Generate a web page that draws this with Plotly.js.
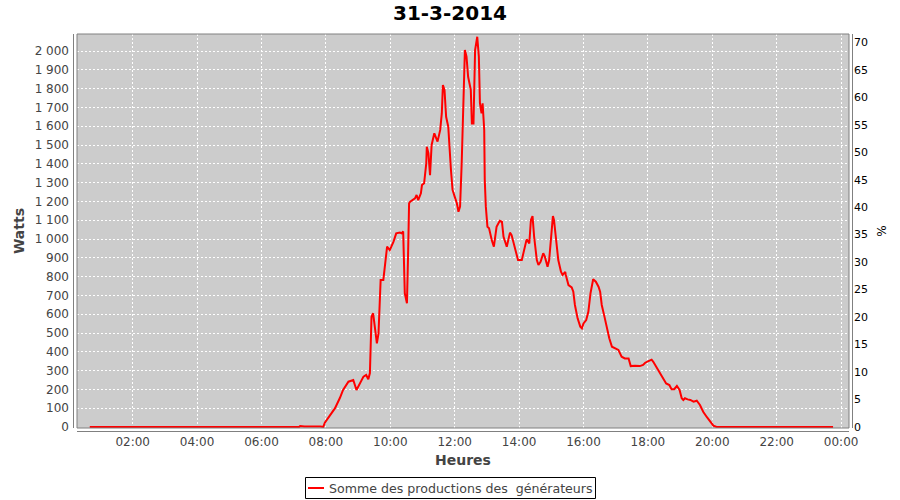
<!DOCTYPE html>
<html>
<head>
<meta charset="utf-8">
<script src="https://cdn.plot.ly/plotly-3.0.1.min.js"></script>
<style>html,body{margin:0;padding:0;background:#fff;}#chart{width:900px;height:500px;}</style>
</head>
<body>
<div id="chart"></div>
<script>
const chartTitle = '31-3-2014';
const seriesName = 'Somme des productions des\u00a0 générateurs';
const day = '2014-03-31';

const times = ["00:40","07:10","07:12","07:20","07:50","07:55",
"07:58","08:08","08:17","08:26","08:32","08:42","08:51","08:57","09:00","09:10",
"09:15","09:19","09:22","09:25","09:28","09:35","09:38","09:42","09:47","09:52",
"09:54","09:59","10:06","10:11","10:18","10:21","10:24","10:27","10:31","10:33",
"10:35","10:37","10:46","10:49","10:52","10:57","10:59","11:03","11:07","11:08",
"11:11","11:14","11:17","11:22","11:25","11:28","11:33","11:36","11:38","11:41",
"11:44","11:48","11:53","11:56","12:01","12:04","12:07","12:10","12:13","12:16",
"12:19","12:22","12:25","12:30","12:32","12:35","12:38","12:42","12:45","12:47",
"12:50","12:52","12:55","12:56","12:58","13:01","13:04","13:09","13:13","13:18",
"13:24","13:28","13:31","13:37","13:43","13:46","13:52","13:58","14:05","14:11",
"14:14","14:19","14:22","14:25","14:28","14:33","14:36","14:40","14:45","14:48",
"14:53","14:56","14:59","15:03","15:05","15:09","15:13","15:18","15:21","15:26",
"15:27","15:32","15:38","15:41","15:44","15:49","15:54","15:57","16:00","16:05",
"16:09","16:13","16:18","16:23","16:28","16:31","16:34","16:39","16:43","16:48",
"16:53","16:59","17:05","17:11","17:17","17:24","17:28","17:36","17:45","17:51",
"17:55","18:01","18:07","18:10","18:15","18:23","18:29","18:34","18:40","18:44",
"18:49","18:54","18:59","19:03","19:06","19:09","19:14","19:19","19:25","19:31",
"19:37","19:43","19:50","19:56","20:02","20:08","20:50","20:52","23:45"];

const watts = [0,0,5,3,3,0,
23,64,100,154,197,241,250,197,214,268,
277,254,287,587,605,445,498,782,782,924,
959,941,986,1030,1034,1030,1040,711,658,900,
1190,1198,1216,1234,1207,1243,1287,1296,1402,1491,
1456,1340,1500,1562,1544,1518,1580,1669,1819,1793,
1650,1597,1367,1261,1216,1190,1145,1172,1402,1757,
2005,1970,1863,1793,1615,1615,2005,2076,1970,1722,
1669,1722,1580,1314,1172,1065,1057,995,959,1065,
1097,1092,1012,959,1034,1021,959,888,888,959,
998,977,1101,1122,1012,888,862,879,924,906,
853,888,977,1122,1101,995,888,826,809,825,
809,755,743,720,649,578,534,525,551,569,
613,711,786,773,746,720,649,587,534,472,
427,419,410,374,365,365,324,326,324,330,
342,350,358,347,324,286,259,232,223,201,
201,218,197,153,144,153,147,144,135,140,
117,81,52,28,7,0,0,3,0];

// pixel helpers for decorations (plot area 77..849 x 34..428)
const L = 77, R = 849, T = 34, B = 428;
const px = p => (p - L) / (R - L);
const py = p => (B - p) / (B - T);

const x = times.map(t => day + ' ' + t);

const traces = [
  {x: x, y: watts, type: 'scatter', mode: 'lines', name: seriesName,
   line: {color: '#ff0000', width: 2}, showlegend: false, hoverinfo: 'x+y'},
  {x: [null], y: [null], yaxis: 'y2', type: 'scatter', mode: 'lines', showlegend: false, hoverinfo: 'skip'}
];

const gridStyle = {showgrid: true, gridcolor: '#ffffff', gridwidth: 1, griddash: '2px,2px'};

const layout = {
  width: 900, height: 500,
  margin: {l: L, r: 900 - R, t: T, b: 500 - B, pad: 0},
  paper_bgcolor: '#ffffff', plot_bgcolor: '#cccccc',
  separators: ', ',
  font: {family: 'DejaVu Sans, sans-serif', size: 12, color: '#444444'},
  showlegend: false,
  title: {text: '<b>' + chartTitle + '</b>', font: {size: 20, color: '#000000'},
          xref: 'container', x: 0.5, xanchor: 'center', yref: 'container', y: 1 - 13/500, yanchor: 'middle'},
  xaxis: Object.assign({
    type: 'date', range: ['2014-03-31 00:16:13', '2014-04-01 00:14:42'],
    tick0: '2014-03-31 00:00', dtick: 7200000, tickformat: '%H:%M',
    zeroline: false, showline: false, ticks: '', ticklabelstandoff: 5,
    tickfont: {size: 12, color: '#444444'},
    title: {text: '<b>Heures</b>', font: {size: 14, color: '#444444'}, standoff: 7},
    automargin: false
  }, gridStyle),
  yaxis: Object.assign({
    range: [-5.3, 2090.4], tick0: 0, dtick: 100, tickformat: ',d',
    zeroline: false, showline: false, ticks: '', ticklabelstandoff: 7,
    tickfont: {size: 12, color: '#444444'},
    title: {text: '<b>Watts</b>', font: {size: 14, color: '#444444'}, standoff: 6},
    automargin: false
  }, gridStyle),
  yaxis2: {
    overlaying: 'y', side: 'right', range: [-0.18, 71.5], tick0: 0, dtick: 5,
    showgrid: false, zeroline: false, showline: false, ticks: '', ticklabelstandoff: 4,
    tickfont: {size: 11, color: '#000000'},
    title: {text: '%', font: {size: 12, color: '#000000'}, standoff: 10},
    automargin: false
  },
  shapes: [
    {type: 'rect', xref: 'paper', yref: 'paper', x0: 0, x1: 1, y0: 0, y1: 1, line: {color: '#808080', width: 1}},
    {type: 'line', xref: 'paper', yref: 'paper', x0: px(73.5), x1: px(73.5), y0: 0, y1: 1, line: {color: '#808080', width: 1}},
    {type: 'line', xref: 'paper', yref: 'paper', x0: px(852.5), x1: px(852.5), y0: 0, y1: 1, line: {color: '#808080', width: 1}},
    {type: 'line', xref: 'paper', yref: 'paper', x0: 0, x1: 1, y0: py(431.5), y1: py(431.5), line: {color: '#808080', width: 1}},
    {type: 'rect', xref: 'paper', yref: 'paper', x0: px(305.5), x1: px(595.5), y0: py(498.5), y1: py(477.5), line: {color: '#000000', width: 1}, fillcolor: '#ffffff'},
    {type: 'line', xref: 'paper', yref: 'paper', x0: px(308), x1: px(324), y0: py(488), y1: py(488), line: {color: '#ff0000', width: 2}}
  ],
  annotations: [
    {xref: 'paper', yref: 'paper', x: px(326.5), y: py(488), xanchor: 'left', yanchor: 'middle',
     text: seriesName, showarrow: false, font: {size: 12.6, color: '#444444'}}
  ]
};

Plotly.newPlot('chart', traces, layout, {displayModeBar: false, staticPlot: true});
</script>
</body>
</html>
